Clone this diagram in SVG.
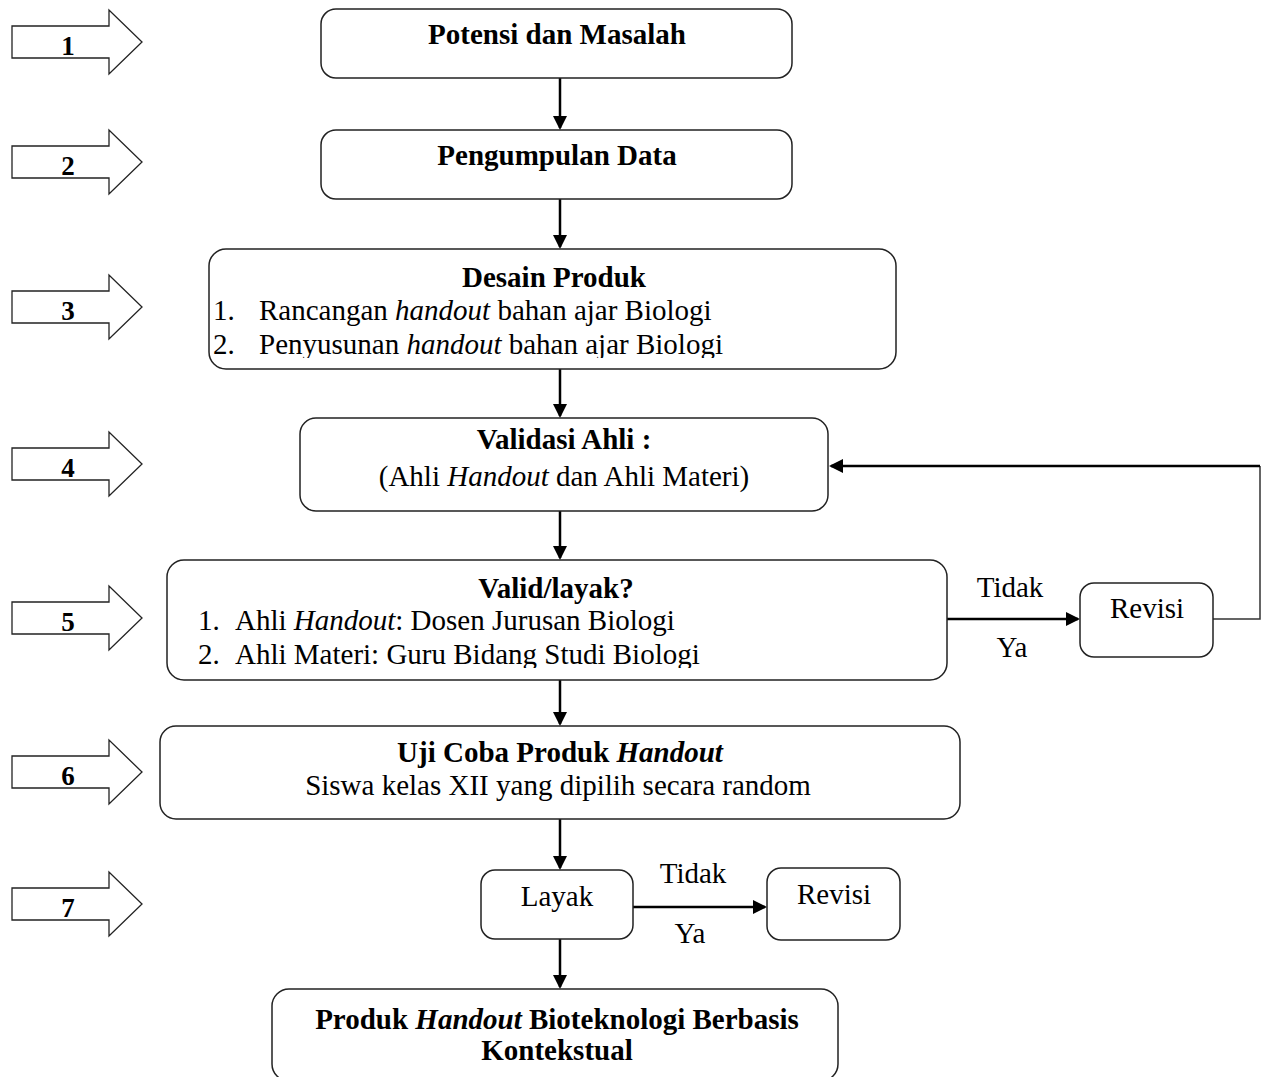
<svg xmlns="http://www.w3.org/2000/svg" width="1261" height="1077" viewBox="0 0 1261 1077">
<style>
.box{fill:#fff;stroke:#222;stroke-width:1.5}
.t{font-family:"Liberation Serif","Times New Roman",serif;font-size:29px;fill:#000}
.c{text-anchor:middle}
.b{font-weight:bold}
.i{font-style:italic}
.num{font-family:"Liberation Serif","Times New Roman",serif;font-size:27px;font-weight:bold;text-anchor:middle;fill:#000}
.stage{fill:#fff;stroke:#222;stroke-width:1.3}
.conn{stroke:#000;stroke-width:2.5;fill:none}
.thin{stroke:#333;stroke-width:1.5;fill:none}
</style>
<defs>
<marker id="ah" viewBox="0 0 14 14" refX="12" refY="7" markerWidth="14" markerHeight="14" markerUnits="userSpaceOnUse" orient="auto">
<path d="M0,0 L14,7 L0,14 Z" fill="#000"/>
</marker>
<clipPath id="clip3"><rect x="200" y="245" width="700" height="113"/></clipPath>
<clipPath id="clip5"><rect x="160" y="555" width="790" height="113"/></clipPath>
<polygon id="stg" points="12,26 109,26 109,10 142,42 109,74 109,58 12,58"/>
</defs>
<rect width="1261" height="1077" fill="#fff"/>

<g id="stage1"><use href="#stg" class="stage"/><text class="num" x="68" y="55">1</text></g>
<g id="stage2" transform="translate(0,120)"><use href="#stg" class="stage"/><text class="num" x="68" y="55">2</text></g>
<g id="stage3" transform="translate(0,265)"><use href="#stg" class="stage"/><text class="num" x="68" y="55">3</text></g>
<g id="stage4" transform="translate(0,422)"><use href="#stg" class="stage"/><text class="num" x="68" y="55">4</text></g>
<g id="stage5" transform="translate(0,576)"><use href="#stg" class="stage"/><text class="num" x="68" y="55">5</text></g>
<g id="stage6" transform="translate(0,730)"><use href="#stg" class="stage"/><text class="num" x="68" y="55">6</text></g>
<g id="stage7" transform="translate(0,862)"><use href="#stg" class="stage"/><text class="num" x="68" y="55">7</text></g>

<g id="connectors">
<line class="conn" x1="560" y1="78" x2="560" y2="128" marker-end="url(#ah)"/>
<line class="conn" x1="560" y1="199" x2="560" y2="247" marker-end="url(#ah)"/>
<line class="conn" x1="560" y1="369" x2="560" y2="416" marker-end="url(#ah)"/>
<line class="conn" x1="560" y1="511" x2="560" y2="558" marker-end="url(#ah)"/>
<line class="conn" x1="560" y1="680" x2="560" y2="724" marker-end="url(#ah)"/>
<line class="conn" x1="560" y1="819" x2="560" y2="868" marker-end="url(#ah)"/>
<line class="conn" x1="560" y1="939" x2="560" y2="987" marker-end="url(#ah)"/>
<line class="conn" x1="947" y1="619" x2="1078" y2="619" marker-end="url(#ah)"/>
<polyline class="thin" points="1213,619 1260,619 1260,466"/>
<line class="conn" x1="1260" y1="466" x2="831" y2="466" marker-end="url(#ah)"/>
<line class="conn" x1="633" y1="907" x2="765" y2="907" marker-end="url(#ah)"/>
<text class="t c" x="1010" y="597">Tidak</text>
<text class="t c" x="1012" y="657">Ya</text>
<text class="t c" x="693" y="883">Tidak</text>
<text class="t c" x="690" y="943">Ya</text>
</g>

<g id="node1">
<rect class="box" x="321" y="9" width="471" height="69" rx="15"/>
<text class="t c b" x="557" y="44">Potensi dan Masalah</text>
</g>
<g id="node2">
<rect class="box" x="321" y="130" width="471" height="69" rx="15"/>
<text class="t c b" x="557" y="165">Pengumpulan Data</text>
</g>
<g id="node3">
<rect class="box" x="209" y="249" width="687" height="120" rx="17"/>
<text class="t c b" x="554" y="287">Desain Produk</text>
<g clip-path="url(#clip3)">
<text class="t" x="213" y="320">1.</text>
<text class="t" x="259" y="320">Rancangan <tspan class="i">handout</tspan> bahan ajar Biologi</text>
<text class="t" x="213" y="354">2.</text>
<text class="t" x="259" y="354">Penyusunan <tspan class="i">handout</tspan> bahan ajar Biologi</text>
</g>
</g>
<g id="node4">
<rect class="box" x="300" y="418" width="528" height="93" rx="16"/>
<text class="t c b" x="564" y="449">Validasi Ahli :</text>
<text class="t c" x="564" y="486">(Ahli <tspan class="i">Handout</tspan> dan Ahli Materi)</text>
</g>
<g id="node5">
<rect class="box" x="167" y="560" width="780" height="120" rx="17"/>
<text class="t c b" x="556" y="598">Valid/layak?</text>
<g clip-path="url(#clip5)">
<text class="t" x="198" y="630">1.</text>
<text class="t" x="235" y="630">Ahli <tspan class="i">Handout</tspan>: Dosen Jurusan Biologi</text>
<text class="t" x="198" y="664">2.</text>
<text class="t" x="235" y="664">Ahli Materi: Guru Bidang Studi Biologi</text>
</g>
</g>
<g id="node_revisi1">
<rect class="box" x="1080" y="583" width="133" height="74" rx="14"/>
<text class="t c" x="1147" y="618">Revisi</text>
</g>
<g id="node6">
<rect class="box" x="160" y="726" width="800" height="93" rx="16"/>
<text class="t c b" x="560" y="762">Uji Coba Produk <tspan class="i">Handout</tspan></text>
<text class="t c" x="558" y="795">Siswa kelas XII yang dipilih secara random</text>
</g>
<g id="node7">
<rect class="box" x="481" y="870" width="152" height="69" rx="14"/>
<text class="t c" x="557" y="906">Layak</text>
</g>
<g id="node_revisi2">
<rect class="box" x="767" y="868" width="133" height="72" rx="14"/>
<text class="t c" x="834" y="904">Revisi</text>
</g>
<g id="node8">
<rect class="box" x="272" y="989" width="566" height="92" rx="17"/>
<text class="t c b" x="557" y="1029">Produk <tspan class="i">Handout</tspan> Bioteknologi Berbasis</text>
<text class="t c b" x="557" y="1060">Kontekstual</text>
</g>
</svg>
